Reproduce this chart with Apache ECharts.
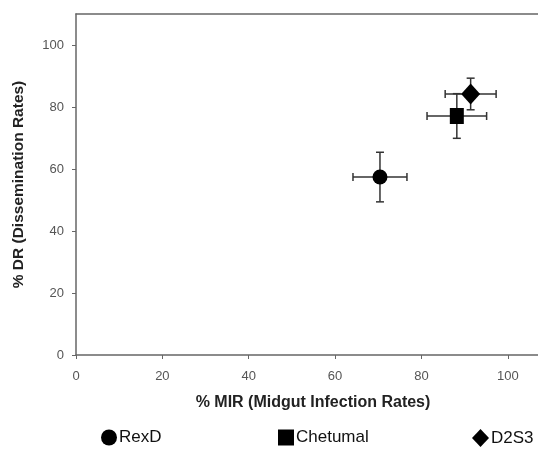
<!DOCTYPE html>
<html lang="en">
<head>
    <meta charset="UTF-8">
    <title>MIR vs DR</title>
    <script src="https://cdn.jsdelivr.net/npm/echarts@6/dist/echarts.min.js"></script>
    <style>
        body { margin: 0; background: #fff; }
        #chart { width: 538px; height: 451px; }
    </style>
</head>
<body>
    <div id="chart"></div>
    <script>
        // strains, with mean and error for each axis
        const strains = ['RexD', 'Chetumal', 'D2S3'];
        const symbols = ['circle', 'rect', 'diamond'];
        const symbolSizes = [[15, 15], [14, 16], [19, 21]];
        const mirValues = [70.4, 88.2, 91.4];
        const mirErrors = [6.25, 6.9, 5.9];
        const drValues = [57.4, 77.1, 84.2];
        const drErrors = [8, 7.2, 5.1];
        const tickValues = [0, 20, 40, 60, 80, 100];

        const legendLefts = [96, 273, 467];

        const chart = echarts.init(document.getElementById('chart'));

        const errorData = strains.map((s, i) => [mirValues[i], drValues[i], mirErrors[i], drErrors[i]]);

        // draws the cross-shaped error bars with caps
        function renderError(params, api) {
            const x = api.value(0), y = api.value(1), ex = api.value(2), ey = api.value(3);
            const left = api.coord([x - ex, y]);
            const right = api.coord([x + ex, y]);
            const top = api.coord([x, y + ey]);
            const bottom = api.coord([x, y - ey]);
            const cap = 4;
            const style = { stroke: '#333', lineWidth: 1.5 };
            const line = (x1, y1, x2, y2) => ({ type: 'line', shape: { x1, y1, x2, y2 }, style });
            return {
                type: 'group',
                children: [
                    line(left[0], left[1], right[0], right[1]),
                    line(left[0], left[1] - cap, left[0], left[1] + cap),
                    line(right[0], right[1] - cap, right[0], right[1] + cap),
                    line(top[0], top[1], bottom[0], bottom[1]),
                    line(top[0] - cap, top[1], top[0] + cap, top[1]),
                    line(bottom[0] - cap, bottom[1], bottom[0] + cap, bottom[1])
                ]
            };
        }

        const labelStyle = { fontFamily: 'Liberation Sans', fontSize: 13, color: '#555' };
        const nameStyle = { fontFamily: 'Liberation Sans', fontWeight: 'bold', fontSize: 16, color: '#222' };
        const lineStyle = { color: '#666', width: 1.5 };

        const option = {
            animation: false,
            backgroundColor: '#fff',
            grid: { left: 76, top: 14, right: 0, bottom: 96 },
            legend: strains.map((s, i) => ({
                data: [{ name: s, icon: symbols[i] }],
                left: legendLefts[i],
                top: 424,
                itemWidth: i === 2 ? 17 : 16,
                itemHeight: i === 2 ? 18 : 16,
                itemGap: 2,
                textStyle: { fontFamily: 'Liberation Sans', fontSize: 17, color: '#111', padding: [0, 0, 0, -3] }
            })),
            xAxis: [
                {
                    type: 'value',
                    min: 0, max: 107, interval: 20,
                    name: '% MIR (Midgut Infection Rates)',
                    nameLocation: 'middle',
                    nameGap: 40,
                    nameTextStyle: Object.assign({ padding: [0, 0, 0, 12] }, nameStyle),
                    axisLine: { show: true, lineStyle },
                    axisTick: { show: true, length: 4, customValues: tickValues, lineStyle: { color: '#666' } },
                    axisLabel: Object.assign({ customValues: tickValues, margin: 15 }, labelStyle),
                    splitLine: { show: false }
                },
                {
                    // top frame line only
                    type: 'value',
                    position: 'top',
                    min: 0, max: 107,
                    axisLine: { show: true, onZero: false, lineStyle },
                    axisTick: { show: false },
                    axisLabel: { show: false },
                    splitLine: { show: false }
                }
            ],
            yAxis: {
                type: 'value',
                min: 0, max: 110, interval: 20,
                name: '% DR (Dissemination Rates)',
                nameLocation: 'middle',
                nameGap: 49,
                nameTextStyle: Object.assign({}, nameStyle, { fontSize: 15.5 }),
                axisLine: { show: true, lineStyle },
                axisTick: { show: true, length: 4, customValues: tickValues, lineStyle: { color: '#666' } },
                axisLabel: Object.assign({ customValues: tickValues, margin: 12 }, labelStyle),
                splitLine: { show: false }
            },
            series: [
                {
                    type: 'custom',
                    renderItem: renderError,
                    data: errorData,
                    encode: { x: 0, y: 1 },
                    z: 1
                }
            ].concat(strains.map((s, i) => ({
                name: s,
                type: 'scatter',
                symbol: symbols[i],
                symbolSize: symbolSizes[i],
                itemStyle: { color: '#000', opacity: 1 },
                data: [[mirValues[i], drValues[i]]],
                z: 3
            })))
        };

        chart.setOption(option);
    </script>
</body>
</html>
